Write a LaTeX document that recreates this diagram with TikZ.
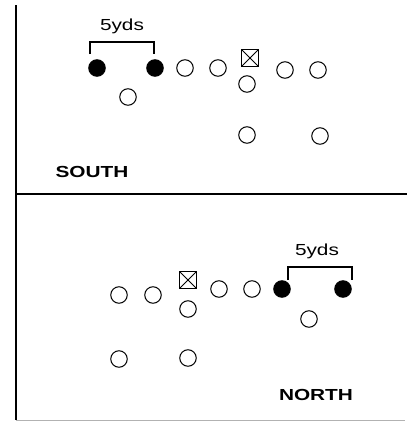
\documentclass[tikz,border=0pt]{standalone}
\usepackage{fontspec}
\usepackage{graphicx}
\setmainfont{Liberation Sans}
\begin{document}
\begin{tikzpicture}[x=1pt,y=-1pt,
  player/.style={circle,draw,line width=1pt,minimum size=16.5pt,inner sep=0pt},
  filled/.style={player,fill=black},
  ctr/.style={rectangle,draw,line width=1.3pt,minimum size=17pt,inner sep=0pt,
    path picture={\draw[line width=1pt] (path picture bounding box.south west) -- (path picture bounding box.north east)
      (path picture bounding box.north west) -- (path picture bounding box.south east);}},
  team/.style={font=\bfseries\fontsize{16}{16}\selectfont,inner sep=0pt},
  yds/.style={font=\fontsize{16}{16}\selectfont,inner sep=0pt},
  bracket/.style={line width=1.4pt},
  field/.style={line width=2.2pt}]
\useasboundingbox (0,0) rectangle (411,421);
% field lines
\coordinate (vt) at (16,5);
\coordinate (vb) at (16,420);
\coordinate (hl) at (16,194);
\coordinate (hr) at (407,194);
\coordinate (bl) at (16,420);
\coordinate (br) at (405,420);
\draw[field] (vt) -- (vb);
\draw[field] (hl) -- (hr);
\draw[gray!60,line width=1pt] (bl) -- (br);
% SOUTH
\node[filled] (s1) at (97,68) {};
\node[filled] (s2) at (155,68) {};
\node[player] (s3) at (185,68) {};
\node[player] (s4) at (218,68) {};
\node[ctr] (sc) at (250,58) {};
\node[player] (s5) at (285,70) {};
\node[player] (s6) at (318,70) {};
\node[player] (s7) at (247,84) {};
\node[player] (s8) at (128,97) {};
\node[player] (s9) at (247,135) {};
\node[player] (s10) at (320,136) {};
\coordinate (sbl) at (90,54);
\coordinate (sbtl) at (90,42);
\coordinate (sbtr) at (154,42);
\coordinate (sbr) at (154,54);
\draw[bracket] (sbl) -- (sbtl) -- (sbtr) -- (sbr);
\node[yds] (syds) at (122,26) {\scalebox{1.3}[1]{5yds}};
\node[team] (south) at (92,172) {\scalebox{1.3}[1]{SOUTH}};
% NORTH
\node[player] (n1) at (119,295) {};
\node[player] (n2) at (153,295) {};
\node[ctr] (nc) at (188,280) {};
\node[player] (n3) at (188,309) {};
\node[player] (n4) at (219,289) {};
\node[player] (n5) at (252,289) {};
\node[filled] (n6) at (282,289) {};
\node[filled] (n7) at (343,289) {};
\node[player] (n8) at (309,319) {};
\node[player] (n9) at (119,359) {};
\node[player] (n10) at (188,358) {};
\coordinate (nbl) at (288,280);
\coordinate (nbtl) at (288,267);
\coordinate (nbtr) at (352,267);
\coordinate (nbr) at (352,280);
\draw[bracket] (nbl) -- (nbtl) -- (nbtr) -- (nbr);
\node[yds] (nyds) at (317,251) {\scalebox{1.3}[1]{5yds}};
\node[team] (north) at (316,395) {\scalebox{1.3}[1]{NORTH}};
\end{tikzpicture}
\end{document}
